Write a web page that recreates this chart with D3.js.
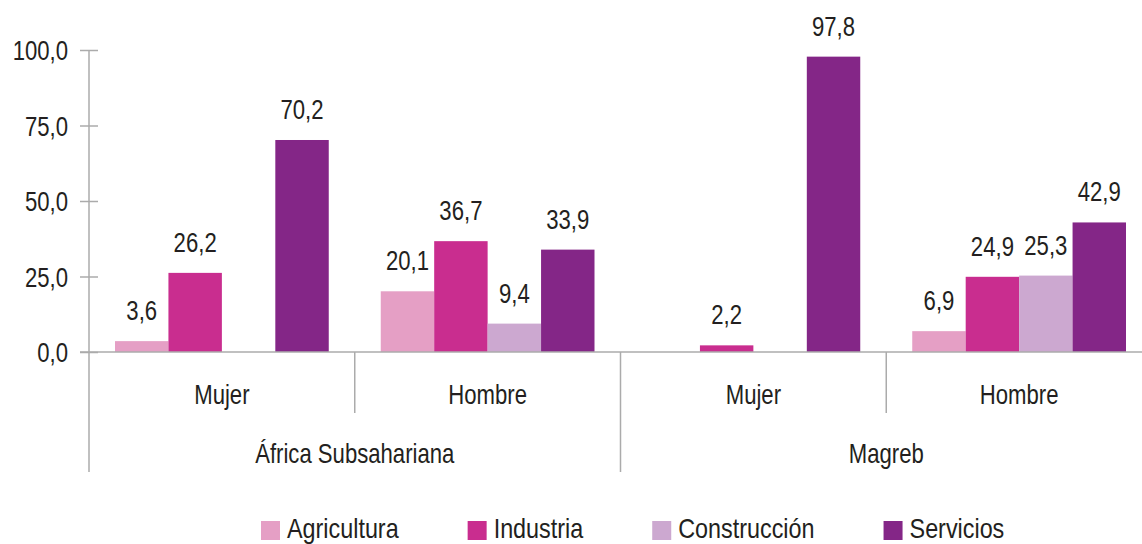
<!DOCTYPE html>
<html>
<head>
<meta charset="utf-8">
<script src="https://cdn.jsdelivr.net/npm/d3@7"></script>
<style>
  body { margin: 0; background: #fff; }
  svg text { font-family: "Liberation Sans Narrow", "Liberation Sans", Arial, sans-serif; fill: #231f20; font-size: 27px; }
</style>
</head>
<body>
<div id="chart"></div>
<script>
var width = 1142, height = 544;
var narrow = 0.82; // horizontal squeeze to get a narrow face

// data
var regions = ["África Subsahariana", "Magreb"];
var sexes = ["Mujer", "Hombre"];
var sectors = ["Agricultura", "Industria", "Construcción", "Servicios"];
var colors = ["#e59fc5", "#c92d8f", "#cca8d0", "#842687"];
var africaMujer = [3.6, 26.2, null, 70.2];
var africaHombre = [20.1, 36.7, 9.4, 33.9];
var magrebMujer = [null, 2.2, null, 97.8];
var magrebHombre = [6.9, 24.9, 25.3, 42.9];
var yTicks = [0, 25, 50, 75, 100];

var series = [africaMujer, africaHombre, magrebMujer, magrebHombre];
var cats = [];
regions.forEach(function (r) {
    sexes.forEach(function (s) { cats.push({ region: r, sex: s, key: r + "|" + s }); });
});
cats.forEach(function (c, i) { c.values = series[i]; });

var fmt = function (v) { return d3.format(".1f")(v).replace(".", ","); };

var x0 = d3.scaleBand()
    .domain(cats.map(d => d.key))
    .range([89, 1152]);

var x1 = d3.scaleBand()
    .domain(sectors)
    .range([26, x0.bandwidth() - 26]);

var xRegion = d3.scaleBand()
    .domain(regions)
    .range([89, 1152]);

var y = d3.scaleLinear()
    .domain([0, 100])
    .range([352, 50]);

var color = d3.scaleOrdinal().domain(sectors).range(colors);

var svg = d3.select("#chart")
    .append("svg")
    .attr("width", width)
    .attr("height", height);

var axisColor = "#ababab";

function label(parent, x, yy, str, anchor) {
    var t = parent.append("g")
        .attr("transform", "translate(" + x + "," + yy + ") scale(" + narrow + ",1)")
        .append("text")
        .attr("text-anchor", anchor || "middle")
        .text(str);
    return t;
}

// y axis
var yAxis = d3.axisLeft(y)
    .tickValues(yTicks)
    .tickSize(9)
    .tickFormat(fmt);

var gy = svg.append("g")
    .attr("transform", "translate(89,0)")
    .call(yAxis);
gy.select(".domain").remove();
gy.selectAll(".tick line")
    .attr("x1", -9).attr("x2", 9)
    .attr("stroke", axisColor).attr("stroke-width", 1.5);
gy.selectAll(".tick text")
    .attr("x", -21 / narrow)
    .attr("dy", "0.36em")
    .attr("transform", "scale(" + narrow + ",1)")
    .attr("font-size", null).attr("font-family", null);

svg.append("line")
    .attr("x1", 89).attr("x2", 89)
    .attr("y1", y(100)).attr("y2", 472)
    .attr("stroke", axisColor).attr("stroke-width", 1.5);

// bars
var cat = svg.selectAll(".cat")
    .data(cats)
    .enter().append("g")
    .attr("transform", d => "translate(" + x0(d.key) + ",0)");

cat.each(function (c) {
    var g = d3.select(this);
    var rows = c.values.map((v, i) => ({ sector: sectors[i], value: v })).filter(e => e.value !== null);
    rows.forEach(function (d) {
        g.append("rect")
            .attr("x", x1(d.sector))
            .attr("y", y(d.value))
            .attr("width", x1.bandwidth())
            .attr("height", y(0) - y(d.value))
            .attr("fill", color(d.sector));
        label(g, x1(d.sector) + x1.bandwidth() / 2, y(d.value) - 21, fmt(d.value));
    });
});

// zero line
svg.append("line")
    .attr("x1", 80).attr("x2", width)
    .attr("y1", y(0)).attr("y2", y(0))
    .attr("stroke", axisColor).attr("stroke-width", 1.5);

// category dividers
cats.forEach(function (c, i) {
    if (i === 0) return;
    var xx = x0(c.key);
    svg.append("line")
        .attr("x1", xx).attr("x2", xx)
        .attr("y1", y(0)).attr("y2", sexes.indexOf(c.sex) === 0 ? 472 : 413)
        .attr("stroke", axisColor).attr("stroke-width", 1.5);
});

// sex labels
cats.forEach(function (c) {
    label(svg, x0(c.key) + x0.bandwidth() / 2, 404, c.sex);
});

// region labels
regions.forEach(function (r) {
    label(svg, xRegion(r) + xRegion.bandwidth() / 2, 463, r);
});

// legend
var lx = 261;
sectors.forEach(function (s) {
    var g = svg.append("g").attr("transform", "translate(" + lx + ",0)");
    g.append("rect")
        .attr("x", 0).attr("y", 521)
        .attr("width", 19).attr("height", 19)
        .attr("fill", color(s));
    var t = label(g, 26, 538, s, "start").style("font-size", "28.5px");
    lx += 26 + t.node().getComputedTextLength() * narrow + 69;
});
</script>
</body>
</html>
